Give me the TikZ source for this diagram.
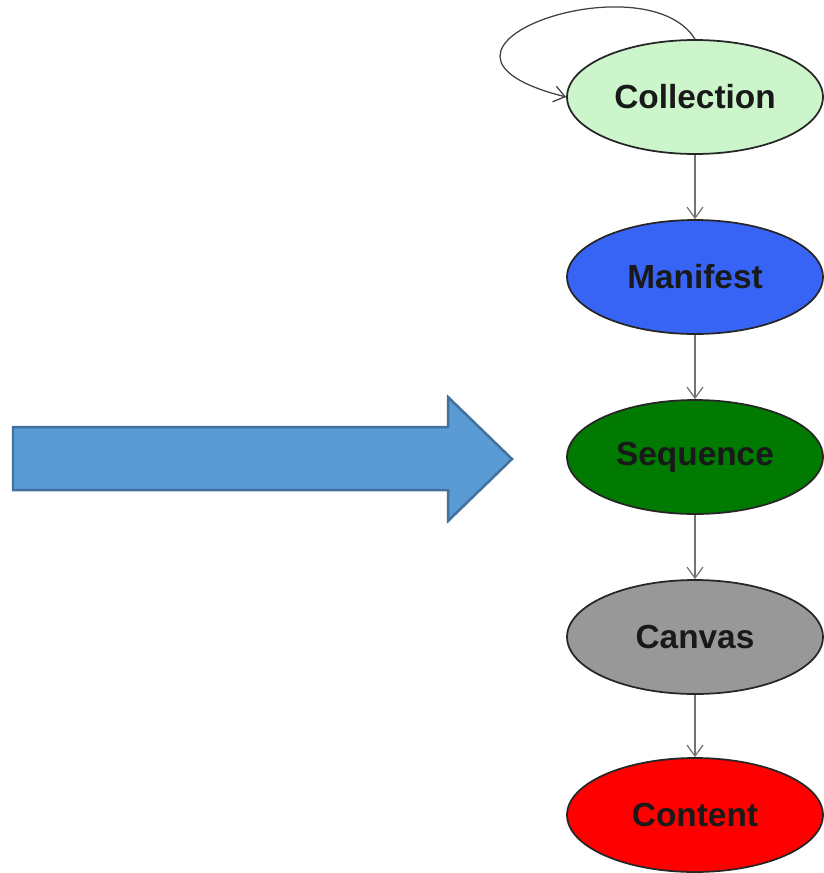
\documentclass[tikz,border=0pt]{standalone}
\usepackage{fontspec}
\setmainfont{Liberation Sans}
\usetikzlibrary{arrows.meta,shapes.geometric}
\definecolor{colgreen}{RGB}{204,245,204}
\definecolor{manblue}{RGB}{55,100,245}
\definecolor{seqgreen}{RGB}{0,122,0}
\definecolor{cangray}{RGB}{152,152,152}
\definecolor{conred}{RGB}{255,0,0}
\definecolor{bigfill}{RGB}{91,155,213}
\definecolor{bigdraw}{RGB}{65,113,156}
\tikzset{
	stage/.style={ellipse, draw=black!85, line width=0.035cm, minimum width=5.12cm, minimum height=2.28cm, inner sep=0pt, font=\fontsize{19}{23}\selectfont\bfseries, text=black!90},
	flow/.style={draw=black!55, line width=0.025cm, -{Straight Barb[length=0.22cm,width=0.32cm]}}
}

\begin{document}
\begin{tikzpicture}[x=0.02cm,y=-0.02cm]
			%%%%% START %%%%%
			
			\useasboundingbox (0, 0) rectangle (823, 873);
			
			\node[stage, fill=colgreen] (collection) at (695, 97) {Collection};
			\node[stage, fill=manblue] (manifest) at (695, 277) {Manifest};
			\node[stage, fill=seqgreen] (sequence) at (695, 457) {Sequence};
			\node[stage, fill=cangray] (canvas) at (695, 637) {Canvas};
			\node[stage, fill=conred] (content) at (695, 815) {Content};
			
			\draw[flow, draw=black!75] (collection.north) .. controls (645, -42) and (380, 50) .. (collection.west);
			
			\draw[flow] (collection) -- (manifest);
			\draw[flow] (manifest) -- (sequence);
			\draw[flow] (sequence) -- (canvas);
			\draw[flow] (canvas) -- (content);
			
			\draw[line width=0.05cm, draw=bigdraw, fill=bigfill] (13, 427) -- (448, 427) -- (448, 397) -- (512, 459) -- (448, 521) -- (448, 490) -- (13, 490) -- cycle;
			
			%%%%% END %%%%%
		\end{tikzpicture}
\end{document}
